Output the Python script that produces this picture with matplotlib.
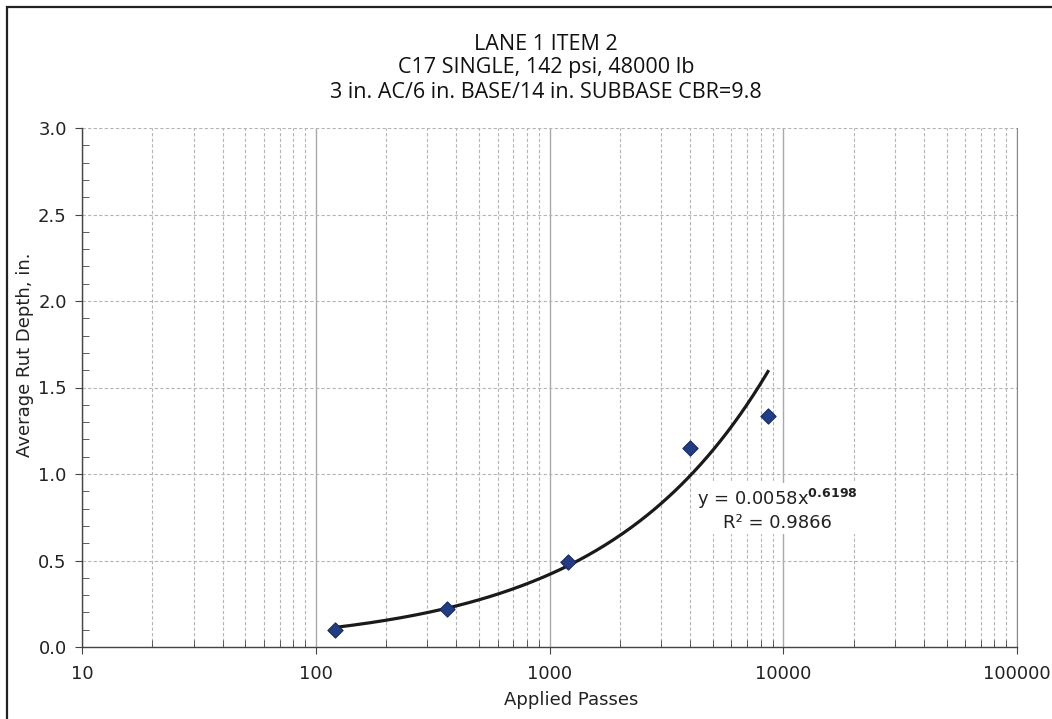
import numpy as np
import matplotlib.pyplot as plt
from matplotlib.ticker import LogLocator, MultipleLocator, FixedLocator, NullFormatter
from matplotlib.patches import Rectangle

# ===== data =====
passes = [121, 364, 1200, 3990, 8600]
rut_depth = [0.10, 0.22, 0.49, 1.15, 1.335]
coef_a = 0.0058
coef_b = 0.6198
r2 = 0.9866

title_lines = ["LANE 1 ITEM 2",
               "C17 SINGLE, 142 psi, 48000 lb",
               "3 in. AC/6 in. BASE/14 in. SUBBASE CBR=9.8"]

fig = plt.figure(figsize=(10.52, 7.19), dpi=100)
ax = fig.add_axes([82 / 1052, 1 - 647 / 719, (1017 - 82) / 1052, (647 - 128) / 719])

# figure frame
fig.patches.append(Rectangle((7 / 1052, -0.1), 1.2, 1 - 7 / 719 + 0.1, transform=fig.transFigure,
                             fill=False, edgecolor="#222222", linewidth=1.6))

ax.set_xscale("log")
ax.set_xlim(10, 100000)
ax.set_ylim(0, 3.0)

# power trend line
xt = np.logspace(np.log10(passes[0]), np.log10(passes[-1]), 200)
ax.plot(xt, coef_a * xt ** coef_b, color="#1a1a1a", linewidth=2.3, zorder=3)
ax.scatter(passes, rut_depth, marker="D", s=60, color="#233C84", edgecolors="#1a2a5a",
           linewidths=0.8, zorder=4)

# ticks
ax.xaxis.set_major_locator(FixedLocator([10, 100, 1000, 10000, 100000]))
ax.xaxis.set_major_formatter(plt.FuncFormatter(lambda v, p: f"{int(v)}"))
ax.xaxis.set_minor_locator(LogLocator(base=10, subs=np.arange(2, 10)))
ax.xaxis.set_minor_formatter(NullFormatter())
ax.yaxis.set_major_locator(MultipleLocator(0.5))
ax.yaxis.set_major_formatter(plt.FuncFormatter(lambda v, p: f"{v:.1f}"))
ax.yaxis.set_minor_locator(MultipleLocator(0.1))

ax.tick_params(which="major", direction="out", length=5, color="#444444",
               labelsize=13, labelcolor="#222222", pad=6)
ax.tick_params(which="minor", direction="in", length=5, color="#444444")
ax.tick_params(axis="x", which="major", pad=8)

# grids
ax.grid(axis="x", which="major", color="#aaaaaa", linestyle="-", linewidth=1.0)
ax.grid(axis="x", which="minor", color="#b5b5b5", linestyle=(0, (3, 2)), linewidth=0.8)
ax.grid(axis="y", which="major", color="#b5b5b5", linestyle=(0, (3, 2)), linewidth=0.8)
ax.set_axisbelow(True)

for s in ["left", "bottom"]:
    ax.spines[s].set_color("#444444")
    ax.spines[s].set_linewidth(1.0)
ax.spines["right"].set_color("#888888")
ax.spines["top"].set_visible(False)

ax.set_xlabel("Applied Passes", fontsize=13, color="#222222")
ax.xaxis.set_label_coords((571 - 82) / 935, -(691 - 647) / 519)
ax.set_ylabel("Average Rut Depth, in.", fontsize=13, color="#222222")
ax.yaxis.set_label_coords((34 - 82) / 935, (647 - 355) / 519)

# equation
ax.text(9400, 0.795, f"y = {coef_a}x$^{{\\mathbf{{{coef_b}}}}}$\nR² = {r2}", ha="center", va="center",
        fontsize=13, color="#222222", linespacing=1.25,
        bbox=dict(facecolor="white", edgecolor="none", pad=1))

for i, line in enumerate(title_lines):
    fig.text(546 / 1052, 1 - (44 + 24 * i) / 719, line, ha="center", va="center",
             fontsize=15.5, color="#111111", family=["Open Sans", "DejaVu Sans"])

fig.savefig("out.png", dpi=100)
